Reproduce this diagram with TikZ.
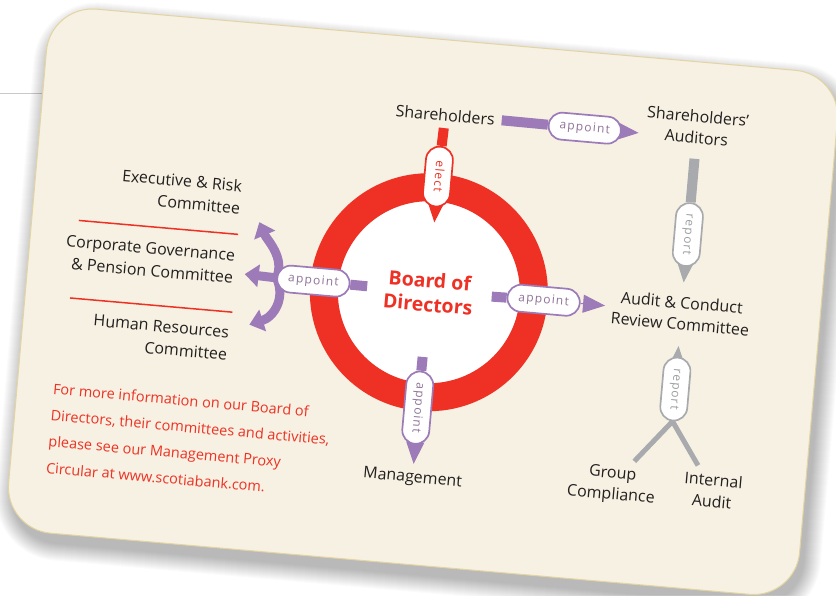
\documentclass[tikz,border=0pt]{standalone}
\usepackage{fontspec}
\setmainfont{Open Sans}
\usetikzlibrary{arrows.meta,calc}

\definecolor{cardfill}{HTML}{F6F1E2}
\definecolor{cardline}{HTML}{E4D4A2}
\definecolor{sbred}{HTML}{EE3124}
\definecolor{plum}{HTML}{9D7AB8}
\definecolor{plumtext}{HTML}{8F7399}
\definecolor{steel}{HTML}{A8AAAD}
\definecolor{steeltext}{HTML}{9C9EA1}
\definecolor{ink}{HTML}{231F20}
\definecolor{pagerule}{HTML}{C9C9C9}

\pgfdeclarelayer{back}
\pgfdeclarelayer{links}
\pgfsetlayers{back,links,main}

\tikzset{
  lbl/.style={font=\fontsize{16}{21.5}\selectfont, text=ink, inner sep=2pt, outer sep=5pt, align=center},
  sidelbl/.style={font=\fontsize{16}{22.5}\selectfont, text=ink, inner sep=0pt, outer sep=0pt, align=right, anchor=east},
  infotext/.style={font=\fontsize{14.5}{26.4}\selectfont, text=sbred, inner sep=0pt, align=left, anchor=west},
  pill/.style={draw=#1, fill=white, line width=1.7pt, rounded corners=13.5pt,
    minimum height=27pt, minimum width=60pt, inner xsep=11pt, inner ysep=0pt,
    text height=8.5pt, text depth=2.5pt,
    font=\fontsize{12}{12}\selectfont\addfontfeatures{LetterSpace=10}},
  purplepill/.style={pill=plum, text=plumtext},
  redpill/.style={pill=sbred, text=sbred},
  greypill/.style={pill=steel, text=steeltext},
  vert/.style={rotate=-90},
  pbar/.style={draw=plum, line width=10pt},
  rbar/.style={draw=sbred, line width=10pt},
  gbar/.style={draw=steel, line width=10pt},
  ptip/.style={draw=plum, line width=1pt, -{Triangle[length=22pt,width=18pt]}},
  rtip/.style={draw=sbred, line width=1pt, -{Triangle[length=22pt,width=18pt]}},
  gtip/.style={draw=steel, line width=1pt, -{Triangle[length=22pt,width=18pt]}},
  branch/.style={draw=steel, line width=5pt},
  fanarrow/.style={draw=plum, line width=9pt, -{Triangle[length=14pt,width=22pt]}},
  divider/.style={draw=sbred, line width=1.5pt},
}

\begin{document}
\begin{tikzpicture}[x=1pt, y=-1pt]
\useasboundingbox (0,0) rectangle (836,595);

\begin{pgfonlayer}{back}
  \fill[white] (0,0) rectangle (836,595);
  % rule of the page behind the card
  \draw[pagerule, line width=0.8pt] (0,93) -- (80,93);
\end{pgfonlayer}

\begin{scope}[shift={(426,302)}, rotate=-5, transform shape]

  \begin{pgfonlayer}{back}
    % soft shadow under the card
    \foreach \k in {1,...,18}{
      \pgfmathsetmacro\rr{46+\k}
      \fill[black, opacity=0.016, rounded corners=\rr pt]
        (-400+6-\k, -263+11-\k) rectangle (394+4+\k, 263+9+\k);
    }
    % the card
    \draw[fill=cardfill, draw=cardline, line width=1pt, rounded corners=46pt]
      (-400,-263) rectangle (394,263);
    % the board ring
    \node[circle, draw=sbred, line width=28pt, fill=white, minimum size=210pt,
          inner sep=0pt, align=center, text=sbred,
          font=\bfseries\fontsize{19.5}{24}\selectfont] (board) at (2,-10) {Board of\\Directors};
  \end{pgfonlayer}

  % labels
  \node[lbl] (sh)    at (3,-188)  {Shareholders};
  \node[lbl] (aud)   at (255,-198) {Shareholders'\\Auditors};
  \node[lbl] (audit) at (255,-11) {Audit \& Conduct\\Review Committee};
  \node[lbl] (mgmt)  at (2,177)   {Management};
  \node[lbl] (gc)    at (201,166) {Group\\Compliance};
  \node[lbl] (ia)    at (302,163) {Internal\\Audit};

  \node[sidelbl] (exec) at (-193.5,-88.5) {Executive \& Risk\\Committee};
  \node[sidelbl] (corp) at (-194.3,-18.5) {Corporate Governance\\\& Pension Committee};
  \node[sidelbl] (hr)   at (-193.6,58.5)  {Human Resources\\Committee};

  \draw[divider] (-353,-51) -- (-193,-51);
  \draw[divider] (-355,27) -- (-192,27);

  \node[infotext] (info) at (-364,158.5) {For more information on our Board of\\Directors, their committees and activities,\\please see our Management Proxy\\Circular at www.scotiabank.com.};

  % labelled pills on the links
  \node[purplepill]       (apT)   at (143,-187) {appoint};
  \node[redpill, vert]    (elect) at (1,-126)   {elect};
  \node[greypill, vert]   (repT)  at (255,-90)  {report};
  \node[purplepill]       (apR)   at (117,-12)  {appoint};
  \node[purplepill]       (apL)   at (-114,-11) {appoint};
  \node[purplepill, vert] (apB)   at (1,106)    {appoint};
  \node[greypill, vert]   (repB)  at (256,65)   {report};

  \coordinate (tipEx) at (-173,-65);
  \coordinate (tipCo) at (-183,-12);
  \coordinate (tipHr) at (-174,38);

  \begin{pgfonlayer}{links}
    % shareholders elect the board
    \draw[rbar] (sh) -- (elect);
    \draw[rtip, shorten >=70pt] (elect) -- (board.center);
    % shareholders appoint the auditors
    \draw[pbar] (sh) -- (apT);
    \draw[ptip] (apT) -- (apT -| aud.west);
    % auditors report to the audit committee
    \draw[gbar, shorten <=8pt] (aud) -- (repT);
    \draw[gtip, shorten >=7pt] (repT) -- (audit);
    % board appoints the audit committee
    \draw[pbar, shorten <=63pt] (board.center) -- (apR);
    \draw[ptip] (apR) -- (apR -| audit.west);
    % board appoints management
    \draw[pbar, shorten <=65pt] (board.center) -- (apB);
    \draw[ptip] (apB) -- (mgmt);
    % board appoints its committees
    \draw[pbar, shorten <=62pt] (board.center) -- (apL);
    \draw[fanarrow] (apL.west) .. controls (-144,-32) and (-164,-48) .. (tipEx);
    \draw[fanarrow] (apL.west) -- (tipCo);
    \draw[fanarrow] (apL.west) .. controls (-140,8) and (-150,28) .. (tipHr);
    % compliance and internal audit report to the audit committee
    \draw[branch] (gc) -- (repB.east);
    \draw[branch] (ia) -- (repB.east);
    \draw[gtip, shorten >=9pt] (repB) -- (audit);
  \end{pgfonlayer}

\end{scope}
\end{tikzpicture}
\end{document}
